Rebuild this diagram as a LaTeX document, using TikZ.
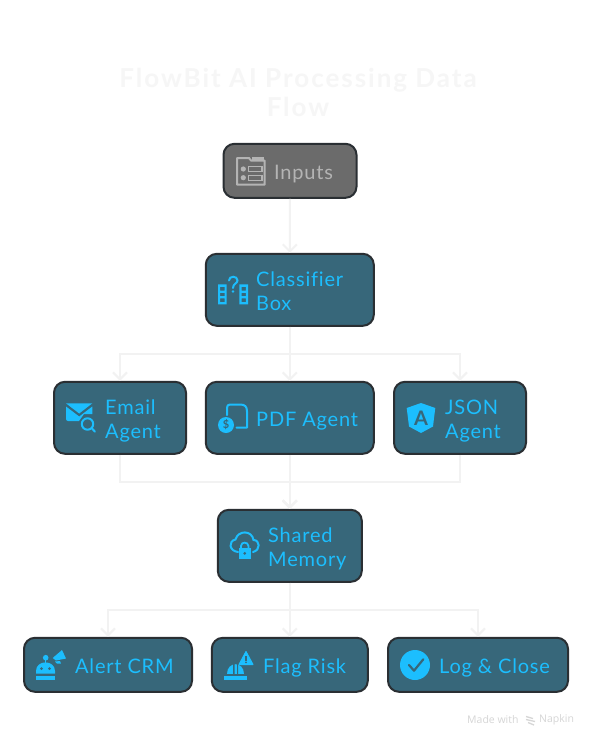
\documentclass[tikz,border=0pt]{standalone}
\usepackage{fontspec}
\setmainfont{Lato}[LetterSpace=4,Ligatures=NoCommon]
\newfontfamily\titlefont{Lato}[LetterSpace=7.6,Ligatures=NoCommon]
\newfontfamily\wmfont{Open Sans}
\usetikzlibrary{arrows.meta}
\definecolor{boxfill}{HTML}{37677A}
\definecolor{boxline}{HTML}{2A2F33}
\definecolor{cyantext}{HTML}{1CBEFE}
\definecolor{greyfill}{HTML}{6B6B6B}
\definecolor{greytext}{HTML}{B4B4B4}
\definecolor{wire}{HTML}{F2F2F2}
\definecolor{titlecol}{HTML}{F6F6F6}
\definecolor{wmcol}{HTML}{D6D6D6}
\tikzset{
  x=1pt,y=-1pt,
  boxnode/.style={draw=boxline,fill=boxfill,line width=2pt,rounded corners=11pt,inner sep=0pt},
  inputbox/.style={boxnode,fill=greyfill},
  txt/.style={anchor=west,align=left,inner sep=0pt,text=cyantext,font=\fontsize{20}{24}\selectfont,text depth=0pt},
  inputtxt/.style={txt,text=greytext},
  wireline/.style={draw=wire,line width=2pt},
  wirearrow/.style={wireline,-{Straight Barb[width=14pt,length=7pt,line width=2pt]}},
  ico/.style={fill=cyantext,draw=none},
  icoline/.style={draw=cyantext,line width=2pt,fill=none},
  cut/.style={fill=boxfill,draw=none},
}
\begin{document}
\begin{tikzpicture}
\useasboundingbox (0,0) rectangle (592,740);
\fill[white] (0,0) rectangle (592,740);

% title
\node[align=center,inner sep=0pt,text=titlecol,font=\titlefont\fontsize{26}{29}\bfseries\selectfont] (title) at (298,92) {FlowBit AI Processing Data\\Flow};

% boxes
\node[inputbox,minimum width=133pt,minimum height=54pt] (inputs) at (290,170.8) {};
\node[boxnode,minimum width=168pt,minimum height=72pt] (classifier) at (289.8,289.8) {};
\node[boxnode,minimum width=132pt,minimum height=72pt] (email) at (120,417.8) {};
\node[boxnode,minimum width=168pt,minimum height=72pt] (pdf) at (289.8,417.8) {};
\node[boxnode,minimum width=132pt,minimum height=72pt] (json) at (460,417.8) {};
\node[boxnode,minimum width=144pt,minimum height=72pt] (shared) at (289.8,545.8) {};
\node[boxnode,minimum width=168pt,minimum height=54pt] (alert) at (108,664.8) {};
\node[boxnode,minimum width=156pt,minimum height=54pt] (flag) at (289.8,664.8) {};
\node[boxnode,minimum width=180pt,minimum height=54pt] (logclose) at (478,664.8) {};

% connectors
\draw[wirearrow] (inputs.south) -- (classifier.north);
\draw[wirearrow] (classifier.south) -- ++(0,27) -| (email.north);
\draw[wirearrow] (classifier.south) -- (pdf.north);
\draw[wirearrow] (classifier.south) -- ++(0,27) -| (json.north);
\draw[wirearrow] (email.south) -- ++(0,27) -| (shared.north);
\draw[wirearrow] (pdf.south) -- (shared.north);
\draw[wirearrow] (json.south) -- ++(0,27) -| (shared.north);
\draw[wirearrow] (shared.south) -- ++(0,27) -| (alert.north);
\draw[wirearrow] (shared.south) -- (flag.north);
\draw[wirearrow] (shared.south) -- ++(0,27) -| (logclose.north);

% labels
\node[inputtxt] (inputsT) at (274,172) {Inputs};
\node[txt] (classifierT) at (256,291) {Classifier\\Box};
\node[txt] (emailT) at (105,419) {Email\\Agent};
\node[txt] (pdfT) at (256,419) {PDF Agent};
\node[txt] (jsonT) at (445,419) {JSON\\Agent};
\node[txt] (sharedT) at (268,547) {Shared\\Memory};
\node[txt] (alertT) at (75,666) {Alert CRM};
\node[txt] (flagT) at (263,666) {Flag Risk};
\node[txt] (logT) at (439,666) {Log \& Close};

% watermark
\node[anchor=west,inner sep=0pt,text=wmcol,font=\wmfont\fontsize{10.5}{12}\selectfont] (wmA) at (467,720) {Made with};
\node[anchor=west,inner sep=0pt,text=wmcol,font=\wmfont\fontsize{10.5}{12}\selectfont] (wmB) at (539,720) {Napkin};
\draw[wmcol,line width=1.3pt] (526,716.5) -- (533,718.5) (526,719.5) -- (535,721.5) (528,722.5) -- (534,725);

% icon: inputs
\draw[greytext,line width=2pt,line join=round] (237,183.5) -- (237,158) -- (249,158) -- (251,160.5) -- (264.7,160.5) -- (264.7,184.7) -- (237,184.7) -- cycle;
\fill[greytext] (252,157) rectangle (264,160.5);
\fill[greytext] (243.3,169) circle (2.6pt) (243.3,177.7) circle (2.6pt);
\draw[greytext,line width=1.5pt] (248.5,166.7) rectangle (262,171.7) (248.5,175.3) rectangle (262,180.3);

% icon: classifier
\fill[ico,even odd rule] (218,284.3) rectangle (226.7,304.3)
  (220.2,286.8) rectangle (224.5,290.5) (220.2,292.8) rectangle (224.5,296) (220.2,298.3) rectangle (224.5,302);
\fill[ico,even odd rule] (239.3,284.3) rectangle (248,304.3)
  (241.5,286.8) rectangle (245.8,290.5) (241.5,292.8) rectangle (245.8,296) (241.5,298.3) rectangle (245.8,302);
\draw[icoline,line cap=round] (229,280.5) .. controls (229,275.5) and (237.5,275.5) .. (237.5,280.5) .. controls (237.5,283.5) and (233,283.5) .. (233,288);
\fill[ico] (233,291.5) circle (1.4pt);

% icon: email
\fill[ico] (66,403.3) -- (92.3,403.3) -- (79.2,413.5) -- cycle;
\fill[ico] (66,406.5) -- (79.2,416.5) -- (92.3,406.5) -- (92.3,414) -- (84,414) -- (79,421) -- (68,421) .. controls (67,421) and (66,420) .. (66,419) -- cycle;
\draw[icoline] (87.5,424) circle (5.7pt);
\draw[icoline,line cap=round] (92,428.5) -- (95,431.7);

% icon: pdf
\draw[icoline,line join=round,line cap=round] (227,415) -- (227,408) .. controls (227,405.5) and (228,404.5) .. (230,404.5) -- (240,404.5) .. controls (245,404.5) and (247,406.5) .. (247,411.5) -- (247,427.5) -- (236.5,427.5);
\fill[ico] (226,425) circle (8pt);
\node[inner sep=0pt,text=boxfill,font=\bfseries\fontsize{11}{11}\selectfont] (pdfsign) at (226,425) {\$};

% icon: json shield
\fill[ico] (421,403) -- (435.3,408) -- (433,426.5) -- (421,433) -- (409,426.5) -- (406.7,408) -- cycle;
\node[inner sep=0pt,text=boxfill,font=\bfseries\fontsize{20}{20}\selectfont] (shieldA) at (421,418) {A};

% icon: shared cloud
\draw[icoline,line cap=round] (238,552) .. controls (229,551) and (228,541) .. (235.5,539.5) .. controls (238,530) and (252,530) .. (253.5,540) .. controls (260,540) and (261,550) .. (253,552);
\fill[ico] (238.7,548.3) rectangle (250.7,558.7);
\draw[icoline,line width=1.8pt] (241,548.3) -- (241,546) .. controls (241,541.5) and (248.4,541.5) .. (248.4,546) -- (248.4,548.3);
\fill[cut] (244.7,553.3) circle (1.5pt);

% icon: alert
\fill[ico] (45.7,657.7) circle (2.8pt);
\draw[icoline,line width=1.5pt] (45.7,659) -- (45.7,663);
\fill[ico] (36,673.5) -- (36,671) .. controls (36,659.5) and (55,659.5) .. (55,671) -- (55,673.5) -- cycle;
\fill[ico] (36,676) rectangle (55,680);
\fill[cut] (41.5,668.5) circle (1.5pt) (49.5,668.5) circle (1.5pt);
\fill[ico] (52.7,658) -- (62,650) -- (66,658.5) -- (56,660.5) -- cycle;
\fill[ico] (55,661.5) -- (60,661) -- (61,663.5) -- (57,663.5) -- cycle;

% icon: flag
\fill[ico] (224,676) rectangle (246.7,680);
\fill[ico] (226.7,674.3) .. controls (226.7,661) and (244.3,661) .. (244.3,674.3) -- cycle;
\fill[cut] (233.2,663) rectangle (234.7,675) (237.2,663) rectangle (238.2,675);
\fill[ico,line join=round,draw=cyantext,line width=1pt] (246,651.5) -- (253,664.5) -- (239,664.5) -- cycle;
\fill[cut] (245.2,655.5) rectangle (246.8,660.5);
\fill[cut] (246,662.3) circle (1pt);

% icon: log
\fill[ico] (415,665) circle (15pt);
\draw[draw=boxfill,line width=2.2pt,line cap=round,line join=round] (409,665) -- (414,670.7) -- (423.3,659.3);
\end{tikzpicture}
\end{document}
